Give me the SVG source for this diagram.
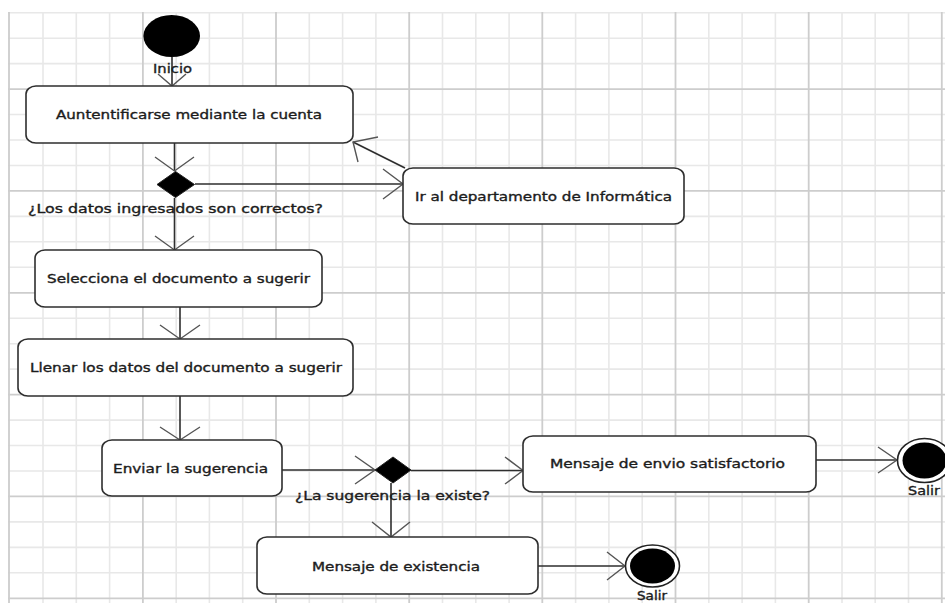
<svg xmlns="http://www.w3.org/2000/svg" width="945" height="603" viewBox="0 0 945 603">
<defs>
<style>
.minor{stroke:#e8e8e8;stroke-width:1.6;fill:none}
.major{stroke:#cdcdcd;stroke-width:1.8;fill:none}
.act{fill:#fff;stroke:#2e2e2e;stroke-width:1.6}
.lbl{font-family:"DejaVu Sans","Liberation Sans",sans-serif;font-size:12px;fill:#1c1c1c;stroke:#1c1c1c;stroke-width:0.35}
.edge{stroke:#2e2e2e;stroke-width:1.6;fill:none}
.head{stroke:#555;stroke-width:1.4;fill:none}
.dec{fill:#000;stroke:#222;stroke-width:1}
</style>
</defs>
<rect width="945" height="603" fill="#fff"/>
<g id="grid">
<path class="minor" d="M43 12V603M76.3 12V603M109.6 12V603M176.2 12V603M209.4 12V603M242.7 12V603M309.3 12V603M342.6 12V603M375.9 12V603M442.5 12V603M475.8 12V603M509.1 12V603M575.6 12V603M608.9 12V603M642.2 12V603M708.8 12V603M742.1 12V603M775.4 12V603M842 12V603M875.2 12V603M908.5 12V603"/>
<path class="minor" d="M8 12.7H945M8 38.2H945M8 63.6H945M8 114.5H945M8 140H945M8 165.5H945M8 216.4H945M8 241.8H945M8 267.3H945M8 318.2H945M8 343.7H945M8 369.1H945M8 420.1H945M8 445.5H945M8 471H945M8 521.9H945M8 547.4H945M8 572.8H945"/>
<path class="major" d="M9 12V603M142.9 12V603M276 12V603M409.2 12V603M542.3 12V603M675.5 12V603M808.7 12V603M941.8 12V603"/>
<path class="major" d="M8 89.1H945M8 190.9H945M8 292.8H945M8 394.6H945M8 496.4H945M8 598.3H945"/>
</g>
<g id="connectors">
<path class="edge" d="M172 57V86"/>
<polyline class="head" points="158,74 172,86 186,74"/>
<path class="edge" d="M174.5 143V171"/>
<polyline class="head" points="155,157 174.5,171 194,157"/>
<path class="edge" d="M195 184H403"/>
<polyline class="head" points="383,169 403,184 383,199"/>
<path class="edge" d="M405 168L353 142"/>
<polyline class="head" points="378,137 353,142 358,162"/>
<path class="edge" d="M174.5 198V250"/>
<polyline class="head" points="155,236 174.5,250 194,236"/>
<path class="edge" d="M180 307V339"/>
<polyline class="head" points="160,325 180,339 200,325"/>
<path class="edge" d="M180 396V440"/>
<polyline class="head" points="160,427 180,440 200,427"/>
<path class="edge" d="M282 470H375"/>
<polyline class="head" points="355,456 375,470 355,484"/>
<path class="edge" d="M411 470.5H523"/>
<polyline class="head" points="505,457 523,470.5 505,484"/>
<path class="edge" d="M816 460H897"/>
<polyline class="head" points="878,447 897,460 878,473"/>
<path class="edge" d="M391 483V537"/>
<polyline class="head" points="372,522 391,537 410,522"/>
<path class="edge" d="M538 566H625"/>
<polyline class="head" points="607,552 625,566 607,580"/>
</g>
<g id="inicio">
<ellipse cx="171.7" cy="36" rx="28.3" ry="21" fill="#000"/>
<text class="lbl" x="153" y="73" textLength="39" lengthAdjust="spacingAndGlyphs">Inicio</text>
</g>
<g id="autenticar">
<rect class="act" x="26" y="86" width="327" height="57" rx="10" ry="8"/>
<text class="lbl" x="56" y="118.5" textLength="266" lengthAdjust="spacingAndGlyphs">Auntentificarse mediante la cuenta</text>
</g>
<g id="decision1">
<polygon class="dec" points="157,184.5 175.5,171.5 194.5,184.5 175.5,197.5"/>
<text class="lbl" x="28" y="213" textLength="295" lengthAdjust="spacingAndGlyphs">¿Los datos ingresados son correctos?</text>
</g>
<g id="informatica">
<rect class="act" x="403" y="168" width="281" height="56" rx="10" ry="8"/>
<text class="lbl" x="415" y="201" textLength="257" lengthAdjust="spacingAndGlyphs">Ir al departamento de Informática</text>
</g>
<g id="selecciona">
<rect class="act" x="35" y="250" width="287" height="57" rx="10" ry="8"/>
<text class="lbl" x="47" y="283" textLength="263" lengthAdjust="spacingAndGlyphs">Selecciona el documento a sugerir</text>
</g>
<g id="llenar">
<rect class="act" x="18" y="339" width="335" height="57" rx="10" ry="8"/>
<text class="lbl" x="30" y="372" textLength="312" lengthAdjust="spacingAndGlyphs">Llenar los datos del documento a sugerir</text>
</g>
<g id="enviar">
<rect class="act" x="102" y="440" width="180" height="56" rx="10" ry="8"/>
<text class="lbl" x="113" y="473" textLength="155" lengthAdjust="spacingAndGlyphs">Enviar la sugerencia</text>
</g>
<g id="decision2">
<polygon class="dec" points="375,470 393,457 411,470 393,483"/>
<text class="lbl" x="295" y="499.5" textLength="195" lengthAdjust="spacingAndGlyphs">¿La sugerencia la existe?</text>
</g>
<g id="envio">
<rect class="act" x="523" y="436" width="293" height="56" rx="10" ry="8"/>
<text class="lbl" x="550" y="468" textLength="235" lengthAdjust="spacingAndGlyphs">Mensaje de envio satisfactorio</text>
</g>
<g id="existencia">
<rect class="act" x="257" y="537" width="281" height="57" rx="10" ry="8"/>
<text class="lbl" x="312" y="571" textLength="168" lengthAdjust="spacingAndGlyphs">Mensaje de existencia</text>
</g>
<g id="salir1">
<ellipse cx="924.5" cy="460.5" rx="27" ry="22" fill="#fff" stroke="#222" stroke-width="1.6"/>
<ellipse cx="924.5" cy="460.5" rx="22" ry="18" fill="#000"/>
<text class="lbl" x="908" y="495" textLength="32" lengthAdjust="spacingAndGlyphs">Salir</text>
</g>
<g id="salir2">
<ellipse cx="652.5" cy="566" rx="27" ry="21" fill="#fff" stroke="#222" stroke-width="1.6"/>
<ellipse cx="652.5" cy="566" rx="22.5" ry="17.5" fill="#000"/>
<text class="lbl" x="637" y="600" textLength="30" lengthAdjust="spacingAndGlyphs">Salir</text>
</g>
</svg>
